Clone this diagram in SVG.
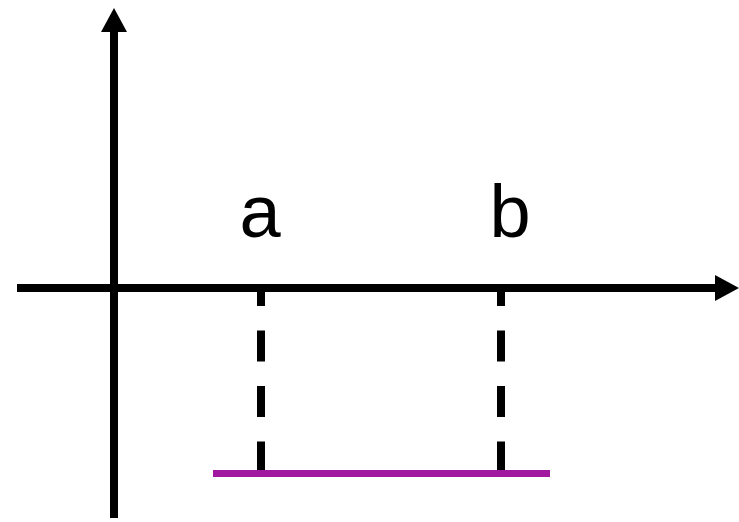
<svg xmlns="http://www.w3.org/2000/svg" width="739" height="522" viewBox="0 0 739 522">
  <style>
    .axis { stroke: #000; stroke-width: 8; fill: none; }
    .dash { stroke: #000; stroke-width: 8; fill: none; stroke-dasharray: 31 24.5; stroke-dashoffset: 13; }
    .seg { stroke: #a0199f; stroke-width: 7; fill: none; }
    .lbl { font-family: "Liberation Sans", Arial, sans-serif; font-size: 74px; fill: #000; text-anchor: middle; }
  </style>
  <defs>
    <marker id="arrow" viewBox="0 0 24 26" refX="0" refY="13" markerWidth="24" markerHeight="26" markerUnits="userSpaceOnUse" orient="auto">
      <path d="M0,0 L24,13 L0,26 Z" fill="#000"/>
    </marker>
  </defs>
  <rect width="739" height="522" fill="#fff"/>
  <g id="connectors">
    <line class="axis" x1="114" y1="518" x2="114" y2="32" marker-end="url(#arrow)"/>
    <line class="axis" x1="17" y1="288" x2="715" y2="288" marker-end="url(#arrow)"/>
    <line class="dash" x1="261" y1="288" x2="261" y2="472"/>
    <line class="dash" x1="501" y1="288" x2="501" y2="472"/>
    <line class="seg" x1="213" y1="473.5" x2="550" y2="473.5"/>
  </g>
  <g id="label-a"><text class="lbl" x="260" y="237">a</text></g>
  <g id="label-b"><text class="lbl" x="510" y="237">b</text></g>
</svg>
